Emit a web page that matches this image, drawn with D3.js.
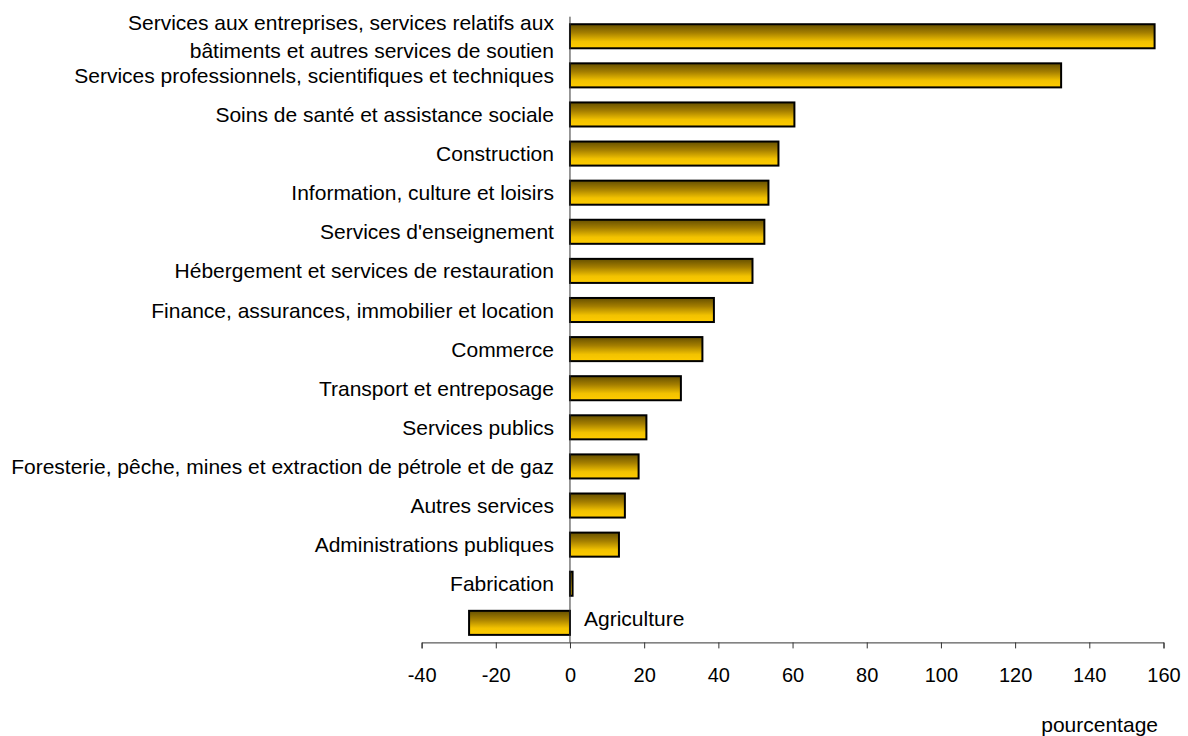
<!DOCTYPE html>
<html>
<head>
<meta charset="utf-8">
<script src="https://cdn.jsdelivr.net/npm/d3@7"></script>
<style>
  html, body { margin: 0; padding: 0; background: #fff; }
  svg { display: block; font-family: "Liberation Sans", Arial, sans-serif; }
</style>
</head>
<body>
<svg id="chart" width="1188" height="736"></svg>
<script>
// Industry categories (top to bottom); "\n" marks a line break in the label
const categories = [
  "Services aux entreprises, services relatifs aux\nbâtiments et autres services de soutien",
  "Services professionnels, scientifiques et techniques",
  "Soins de santé et assistance sociale",
  "Construction",
  "Information, culture et loisirs",
  "Services d'enseignement",
  "Hébergement et services de restauration",
  "Finance, assurances, immobilier et location",
  "Commerce",
  "Transport et entreposage",
  "Services publics",
  "Foresterie, pêche, mines et extraction de pétrole et de gaz",
  "Autres services",
  "Administrations publiques",
  "Fabrication",
  "Agriculture"
];

// Percentage change per industry
const values = [157.6, 132.4, 60.5, 56.2, 53.5, 52.4, 49.2, 38.8, 35.7, 29.9, 20.6, 18.5, 14.8, 13.2, 0.7, -27.2];

// Horizontal axis ticks and title
const tickValues = [-40, -20, 0, 20, 40, 60, 80, 100, 120, 140, 160];
const axisTitle = "pourcentage";

const svg = d3.select("#chart");

const x = d3.scaleLinear().domain([-40, 160]).range([421.6, 1163.5]);
const y = d3.scaleBand()
  .domain(categories)
  .range([16.7, 642.4])
  .paddingInner(0.385)
  .paddingOuter(0.1925);

// Gold gradient fill, dark at the top of each bar
const defs = svg.append("defs");
const grad = defs.append("linearGradient")
  .attr("id", "barGold")
  .attr("x1", 0).attr("y1", 0).attr("x2", 0).attr("y2", 1);
grad.append("stop").attr("offset", "0%").attr("stop-color", "#665000");
grad.append("stop").attr("offset", "35%").attr("stop-color", "#a47e00");
grad.append("stop").attr("offset", "72%").attr("stop-color", "#f2c200");
grad.append("stop").attr("offset", "100%").attr("stop-color", "#ffcc00");

const data = categories.map((c, i) => ({ cat: c, v: values[i] }));

// Bars
svg.append("g")
  .selectAll("rect")
  .data(data)
  .join("rect")
  .attr("x", d => x(Math.min(0, d.v)))
  .attr("y", d => y(d.cat))
  .attr("width", d => Math.abs(x(d.v) - x(0)))
  .attr("height", y.bandwidth())
  .attr("fill", "url(#barGold)")
  .attr("stroke", "#000")
  .attr("stroke-width", 2);

// Horizontal axis (plain hyphen for negative numbers)
const xAxis = d3.axisBottom(x)
  .tickValues(tickValues)
  .tickFormat(d => String(d))
  .tickSizeInner(6)
  .tickSizeOuter(6)
  .tickPadding(19.5);

const gx = svg.append("g")
  .attr("transform", `translate(0,${y.range()[1]})`)
  .call(xAxis);
gx.select(".domain").attr("stroke", "#333").attr("stroke-width", 1);
gx.selectAll(".tick line").attr("stroke", "#333");
gx.selectAll(".tick text")
  .attr("fill", "#000")
  .attr("font-size", 20)
  .attr("font-family", "Liberation Sans, Arial, sans-serif");

// Vertical axis line at zero
svg.append("line")
  .attr("x1", x(0)).attr("x2", x(0))
  .attr("y1", y.range()[0]).attr("y2", y.range()[1])
  .attr("stroke", "#333")
  .attr("stroke-width", 1);

// Category labels, beside the zero line
const labels = svg.append("g")
  .attr("font-size", 21)
  .attr("fill", "#000");

data.forEach(d => {
  const lines = d.cat.split("\n");
  const cy = y(d.cat) + y.bandwidth() / 2;
  const neg = d.v < 0;
  const t = labels.append("text")
    .attr("x", neg ? x(0) + 14 : x(0) - 16)
    .attr("text-anchor", neg ? "start" : "end");
  const lh = 28.3;
  lines.forEach((ln, i) => {
    t.append("tspan")
      .attr("x", neg ? x(0) + 14 : x(0) - 16)
      .attr("y", cy + (i - (lines.length - 1) / 2) * lh - (neg ? 4 : 0))
      .attr("dy", "0.36em")
      .text(ln);
  });
});

// Axis title
svg.append("text")
  .attr("x", 1158)
  .attr("y", 732)
  .attr("text-anchor", "end")
  .attr("font-size", 21)
  .attr("fill", "#000")
  .text(axisTitle);
</script>
</body>
</html>
